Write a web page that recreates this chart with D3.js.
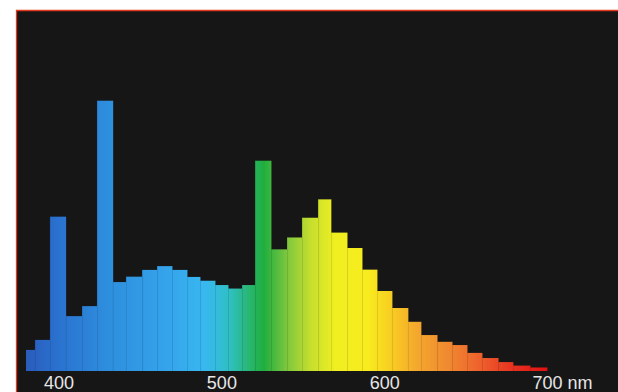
<!DOCTYPE html>
<html>
<head>
<meta charset="utf-8">
<script src="https://cdn.jsdelivr.net/npm/d3@7"></script>
<style>
  html, body { margin: 0; padding: 0; background: #ffffff; }
  svg { display: block; }
</style>
</head>
<body>
<svg id="chart" width="618" height="392"></svg>
<script>
// Bin edges (nm) and relative intensity per bin (peak = 100)
const binEdges = [380, 385.5, 394.7, 404.4, 414.4, 423.6, 433.3, 441.4, 451.3, 460.5, 469.7,
  478.9, 486.9, 496.1, 504.1, 512.7, 520.7, 530.5, 540.3, 549.5, 559.4, 567.3, 577.2, 586.4,
  595.6, 604.8, 614.6, 622.6, 632.5, 641.7, 650.9, 660.1, 670, 679.1, 689.6, 700];
const intensity = [7.8, 11.5, 57.1, 20.3, 24.0, 100, 32.9, 34.9, 37.4, 38.8, 37.4,
  34.8, 33.4, 31.8, 30.5, 31.8, 77.8, 45.0, 49.4, 56.7, 63.5, 51.2, 45.5,
  37.5, 29.6, 23.3, 18.2, 13.3, 10.8, 9.6, 6.7, 4.8, 3.3, 2.0, 1.3];
const tickValues = [400, 500, 600, 700];
const tickLabels = ["400", "500", "600", "700"];
const unitLabel = "nm";
// spectrum colour stops (wavelength nm, colour)
const stopWavelengths = [380, 400, 430, 470, 490, 505, 518, 526, 540, 555, 570, 590, 605, 620, 640, 660, 680, 700];
const stopColors = ["#2a5cbc", "#2a72cf", "#2e8ede", "#35a6ec", "#38b8f0", "#2fc0c4", "#28b66c", "#1fae3e",
  "#7cc63e", "#c6df2e", "#f0ef20", "#f8ec1e", "#f8cc22", "#f4a82e", "#f08830", "#ee5e2c", "#e63020", "#e01212"];

const svg = d3.select("#chart");
const W = 618, H = 392;

// dark panel with red edge
svg.append("rect").attr("x", 16).attr("y", 10).attr("width", W - 16).attr("height", H - 10)
  .attr("fill", "#161616");
svg.append("path").attr("d", `M16.5,${H} V10.5 H${W}`).attr("fill", "none")
  .attr("stroke", "#e2391c").attr("stroke-width", 1.3);

const x = d3.scaleLinear().domain([380, 700]).range([26, 547]);
const y = d3.scaleLinear().domain([0, 100]).range([371, 100.7]);

const defs = svg.append("defs");
const grad = defs.append("linearGradient").attr("id", "spectrum")
  .attr("gradientUnits", "userSpaceOnUse")
  .attr("x1", x(380)).attr("x2", x(700)).attr("y1", 0).attr("y2", 0);
stopWavelengths.forEach((w, i) => {
  grad.append("stop").attr("offset", (w - 380) / 320).attr("stop-color", stopColors[i]);
});

const bins = intensity.map((v, i) => ({ x0: binEdges[i], x1: binEdges[i + 1], v }));

svg.append("g").selectAll("rect").data(bins).join("rect")
  .attr("x", d => x(d.x0))
  .attr("width", d => x(d.x1) - x(d.x0) + 0.4)
  .attr("y", d => y(d.v))
  .attr("height", d => y(0) - y(d.v))
  .attr("fill", "url(#spectrum)");

// faint striations at bin edges
svg.append("g").selectAll("line").data(bins.slice(1)).join("line")
  .attr("x1", d => x(d.x0) + 0.5).attr("x2", d => x(d.x0) + 0.5)
  .attr("y1", d => y(d.v)).attr("y2", y(0))
  .attr("stroke", "rgba(0,0,0,0.10)").attr("stroke-width", 1);

// axis
const axis = d3.axisBottom(x).tickValues(tickValues)
  .tickFormat((d, i) => tickLabels[i]).tickSize(0).tickPadding(0);
const gAxis = svg.append("g").attr("transform", `translate(0,${y(0)})`).call(axis);
gAxis.select(".domain").remove();
gAxis.selectAll("text")
  .attr("y", 18).attr("dy", 0)
  .attr("fill", "#e6e6e6")
  .style("font-family", "'Liberation Sans', Arial, sans-serif")
  .style("font-size", "18px");

// unit label after the last tick
const lastTick = gAxis.selectAll(".tick").filter(d => d === 700);
const lastText = lastTick.select("text").node();
const bb = lastText.getBBox();
lastTick.append("text")
  .attr("x", bb.x + bb.width + 5).attr("y", 18)
  .attr("fill", "#e6e6e6")
  .attr("text-anchor", "start")
  .style("font-family", "'Liberation Sans', Arial, sans-serif")
  .style("font-size", "18px")
  .text(unitLabel);
</script>
</body>
</html>
